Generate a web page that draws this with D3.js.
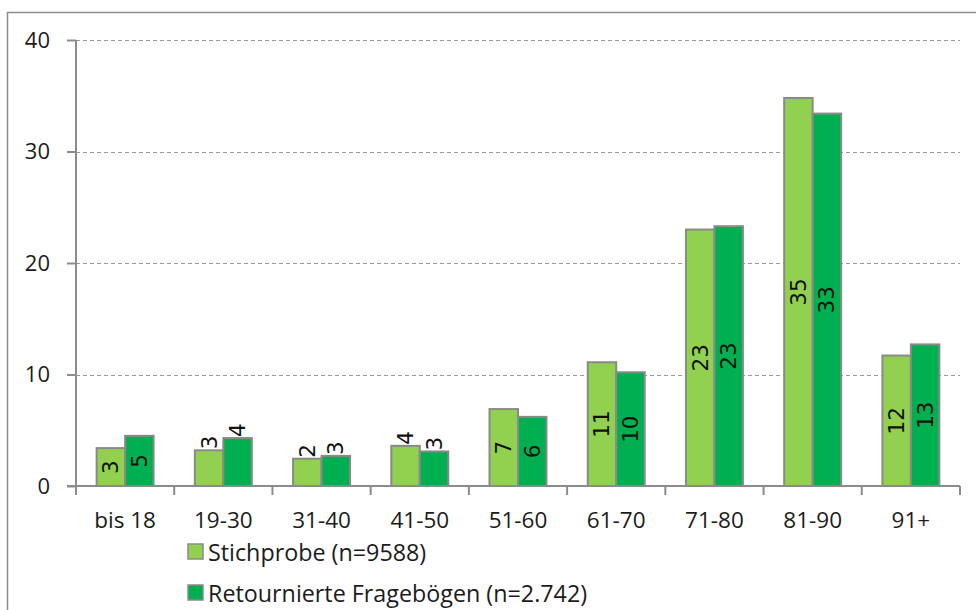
<!DOCTYPE html>
<html>
<head>
<meta charset="utf-8">
<script src="https://cdn.jsdelivr.net/npm/d3@7/dist/d3.min.js"></script>
<style>
  html, body { margin: 0; padding: 0; background: #fff; }
  svg { display: block; }
</style>
</head>
<body>
<svg id="chart" width="976" height="610"></svg>
<script>
// ---- data ----
const categories = ["bis 18", "19-30", "31-40", "41-50", "51-60", "61-70", "71-80", "81-90", "91+"];
const stichprobe = [3.4, 3.2, 2.45, 3.6, 6.9, 11.1, 23.0, 34.8, 11.7];
const retourniert = [4.5, 4.3, 2.7, 3.1, 6.2, 10.2, 23.3, 33.4, 12.7];
const labelPlacement = ["center", "end", "end", "end", "center", "center", "center", "center", "center"];
const seriesNames = ["Stichprobe (n=9588)", "Retournierte Fragebögen (n=2.742)"];
const yTicks = [0, 10, 20, 30, 40];

const colors = ["#92d050", "#00b050"];
const font = "'Open Sans', sans-serif";
const textColor = "#1c1c1c";

const svg = d3.select("#chart");

// outer frame (partially visible)
svg.append("path")
  .attr("d", "M7.5,610 L7.5,12.5 L976,12.5")
  .attr("fill", "none").attr("stroke", "#8c8c8c").attr("stroke-width", 1.5);

const x0 = 76, x1 = 960, yTop = 40, yBottom = 486;
const x = d3.scaleBand().domain(categories).range([x0, x1]).paddingInner(0).paddingOuter(0);
const y = d3.scaleLinear().domain([0, 40]).range([yBottom, yTop]);
const groupPad = 0.21;
const xs = d3.scaleBand().domain([0, 1]).range([x.bandwidth() * groupPad, x.bandwidth() * (1 - groupPad)]).padding(0);

// gridlines
svg.append("g").selectAll("line").data(yTicks.filter(d => d > 0)).join("line")
  .attr("x1", x0).attr("x2", x1)
  .attr("y1", d => Math.round(y(d)) + 0.5).attr("y2", d => Math.round(y(d)) + 0.5)
  .attr("stroke", "#9a9a9a").attr("stroke-width", 1).attr("stroke-dasharray", "4,3");

// y axis
const yAxis = svg.append("g").attr("transform", `translate(${x0},0)`)
  .call(d3.axisLeft(y).tickValues(yTicks).tickSize(9).tickPadding(17).tickFormat(d3.format("d")));
yAxis.select(".domain").attr("stroke", "#8c8c8c").attr("stroke-width", 2)
  .attr("d", `M0,${yTop}V${yBottom + 9}`);
yAxis.selectAll(".tick line").attr("stroke", "#8c8c8c").attr("stroke-width", 2);
yAxis.selectAll(".tick text").attr("font-family", font).attr("font-size", 22).attr("fill", textColor);

// x axis
const xAxis = svg.append("g").attr("transform", `translate(0,${yBottom})`);
xAxis.append("line").attr("x1", x0 - 9).attr("x2", x1).attr("y1", 0).attr("y2", 0)
  .attr("stroke", "#8c8c8c").attr("stroke-width", 2);
const boundaries = categories.map(c => x(c)).concat([x1]);
xAxis.selectAll("line.tk").data(boundaries).join("line").attr("class", "tk")
  .attr("x1", d => d).attr("x2", d => d).attr("y1", 0).attr("y2", 9)
  .attr("stroke", "#8c8c8c").attr("stroke-width", 2);
xAxis.selectAll("text").data(categories).join("text")
  .attr("x", d => x(d) + x.bandwidth() / 2).attr("y", 42)
  .attr("text-anchor", "middle")
  .attr("font-family", font).attr("font-size", 22.5).attr("fill", textColor)
  .text(d => d);

// bars
const series = [stichprobe, retourniert];
series.forEach((vals, si) => {
  const g = svg.append("g");
  g.selectAll("rect").data(vals).join("rect")
    .attr("x", (d, i) => x(categories[i]) + xs(si))
    .attr("y", d => y(d))
    .attr("width", xs.bandwidth())
    .attr("height", d => y(0) - y(d))
    .attr("fill", colors[si])
    .attr("stroke", "#8a8a8a").attr("stroke-width", 2);
  g.selectAll("text").data(vals).join("text")
    .attr("transform", (d, i) => {
      const cx = x(categories[i]) + xs(si) + xs.bandwidth() / 2;
      const cy = labelPlacement[i] === "center" ? (y(d) + y(0)) / 2 : y(d) - 1;
      return `translate(${cx},${cy}) rotate(-90)`;
    })
    .attr("text-anchor", (d, i) => labelPlacement[i] === "center" ? "middle" : "start")
    .attr("dominant-baseline", "central")
    .attr("font-family", "'DejaVu Sans', sans-serif").attr("font-size", 21.5).attr("fill", "#111")
    .text(d => Math.round(d));
});

// legend
const legend = svg.append("g");
const legendRows = [552, 593];
seriesNames.forEach((name, i) => {
  legend.append("rect").attr("x", 188).attr("y", legendRows[i] - 8).attr("width", 15).attr("height", 15)
    .attr("fill", colors[i]).attr("stroke", "#8a8a8a").attr("stroke-width", 1.5);
  legend.append("text").attr("x", 208).attr("y", legendRows[i])
    .attr("dominant-baseline", "central")
    .attr("font-family", font).attr("font-size", 23.3).attr("fill", textColor)
    .text(name);
});
</script>
</body>
</html>
